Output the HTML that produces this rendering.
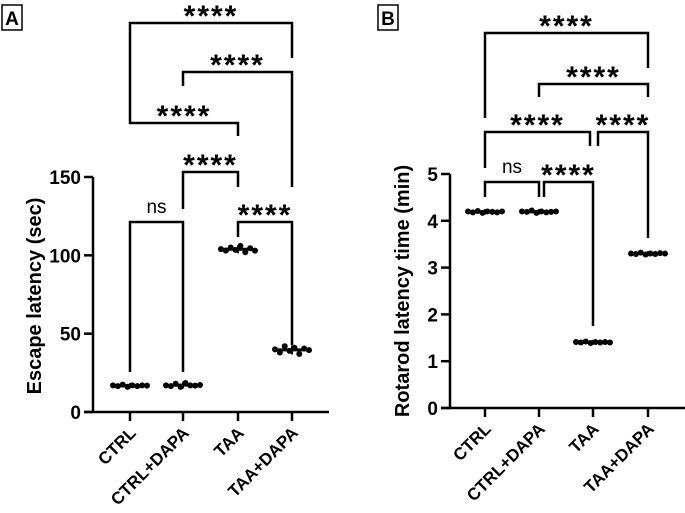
<!DOCTYPE html>
<html><head><meta charset="utf-8"><style>
html,body{margin:0;padding:0;background:#fff;}
svg{display:block;font-family:"Liberation Sans",Arial,sans-serif;}
</style></head><body>
<svg id="chart" width="685" height="513" viewBox="0 0 685 513"></svg>
<script>
const categories = ["CTRL","CTRL+DAPA","TAA","TAA+DAPA"];
const escapeValues = [
  [17,16.5,17.5,16,17,16.5,17,16.8],
  [17,16.5,18,16,18.5,17,16.8,17.2],
  [104,103,105,103.5,106,102,104.5,103],
  [40,38,42,39,41,37,40.5,39.5]
];
const rotarodValues = [
  [4.2,4.18,4.21,4.17,4.2,4.19,4.18,4.2],
  [4.2,4.19,4.22,4.17,4.2,4.18,4.19,4.2],
  [1.41,1.4,1.42,1.39,1.41,1.4,1.41,1.4],
  [3.3,3.29,3.32,3.28,3.3,3.29,3.31,3.3]
];
const ticksA = [0,50,100,150];
const ticksB = [0,1,2,3,4,5];
const compsA = [[0,1,"ns"],[1,2,"****"],[2,3,"****"],[0,2,"****"],[1,3,"****"],[0,3,"****"]];
const compsB = [[0,1,"ns"],[1,2,"****"],[0,2,"****"],[2,3,"****"],[1,3,"****"],[0,3,"****"]];

const NS="http://www.w3.org/2000/svg";
const svg=document.getElementById('chart');
function mk(tag,attrs,parent){const e=document.createElementNS(NS,tag);for(const k in attrs)e.setAttribute(k,attrs[k]);(parent||svg).appendChild(e);return e;}

function panel(cfg){
  const g=mk('g',{});
  
  
  const y=v=>cfg.y0+(cfg.y1-cfg.y0)*(v-cfg.vmin)/(cfg.vmax-cfg.vmin);
  const x=i=>cfg.xs[i];
  const ya=mk('line',{x1:cfg.ax,y1:y(cfg.vmax),x2:cfg.ax,y2:cfg.y0,stroke:'#000','stroke-width':2.5},g);
  
  const xa=mk('line',{x1:cfg.ax-9,y1:cfg.y0,x2:cfg.axEnd,y2:cfg.y0,stroke:'#000','stroke-width':2.5},g);
  
  cfg.ticks.forEach(t=>{
    mk('line',{x1:cfg.ax-9,y1:y(t),x2:cfg.ax,y2:y(t),stroke:'#000','stroke-width':2.5},g);
    const tx=mk('text',{x:cfg.ax-12,y:y(t)+7,'text-anchor':'end','font-size':19,'font-weight':'bold'},g);
    tx.textContent=t;
    
  });
  const tt=mk('text',{x:0,y:0,'text-anchor':'middle','font-size':cfg.titleSize,'font-weight':'bold',transform:`translate(${cfg.titleX},${cfg.titleY}) rotate(-90)`},g);
  tt.textContent=cfg.title;
  
  categories.forEach((c,i)=>{
    mk('line',{x1:x(i),y1:cfg.y0,x2:x(i),y2:cfg.y0+9,stroke:'#000','stroke-width':2.5},g);
    const lb=mk('text',{x:0,y:0,'text-anchor':'end','font-size':17,'font-weight':'bold',transform:`translate(${x(i)+7},${cfg.y0+22}) rotate(-45)`},g);
    lb.textContent=c;
    
  });
  cfg.values.forEach((vals,i)=>{
    const n=vals.length;
    vals.forEach((v,k)=>{
      const px=x(i)-17+34*k/(n-1);
      const c=mk('circle',{cx:px,cy:y(v),r:3,fill:'#000'},g);
      
    });
    const m=vals.reduce((a,b)=>a+b,0)/n;
    const sd=Math.sqrt(vals.reduce((a,b)=>a+(b-m)*(b-m),0)/(n-1));
    mk('line',{x1:x(i)-14,y1:y(m),x2:x(i)+14,y2:y(m),stroke:'#000','stroke-width':3},g);
    mk('line',{x1:x(i),y1:y(m-sd)+2,x2:x(i),y2:y(m+sd)-2,stroke:'#000','stroke-width':2},g);
  });
  cfg.brackets.forEach((b,k)=>{
    const [i,j,lab]=cfg.comps[k];
    const xl=b.xl!==undefined?b.xl:x(i), xr=b.xr!==undefined?b.xr:x(j);
    const p=mk('path',{d:`M${xl},${b.l} V${b.top} H${xr} V${b.r}`,fill:'none',stroke:'#000','stroke-width':2.5},g);
    
    const isNs=lab==='ns';
    const t=mk('text',{x:(xl+xr)/2,y:isNs?b.top-9:b.top+3,'text-anchor':'middle','font-size':isNs?19:30,'font-weight':isNs?'normal':'bold','letter-spacing':isNs?0:2},g);
    t.textContent=lab;
    
  });
  mk('rect',{x:cfg.lbx,y:5,width:20,height:25,fill:'none',stroke:'#000','stroke-width':1.5},g);
  const pl=mk('text',{x:cfg.lbx+10,y:25,'text-anchor':'middle','font-size':19,'font-weight':'bold'},g);
  pl.textContent=cfg.label;
  
}

panel({name:'panel-a',label:'A',lbx:2,ax:93,axEnd:329,y0:412,y1:177,vmin:0,vmax:150,ticks:ticksA,
  xs:[130,183,238,292],values:escapeValues,title:'Escape latency (sec)',titleSize:20,titleX:41,titleY:296,comps:compsA,
  brackets:[{top:222,l:372,r:372},{top:172,l:209,r:187},{top:222,l:237,r:345},{top:123,l:108,r:136},{top:72,l:86,r:187},{top:23,l:108,r:58}]});
panel({name:'panel-b',label:'B',lbx:378,ax:450,axEnd:685,y0:408,y1:174,vmin:0,vmax:5,ticks:ticksB,
  xs:[485,539,593,648],values:rotarodValues,title:'Rotarod latency time (min)',titleSize:20,titleX:409,titleY:291,comps:compsB,
  brackets:[{top:182,l:197,r:197},{top:182,l:197,r:326,xl:544},{top:132,l:168,r:146,xr:590},{top:132,l:146,r:238,xl:598},{top:84,l:97,r:97},{top:33,l:118,r:68}]});
</script>
</body></html>
